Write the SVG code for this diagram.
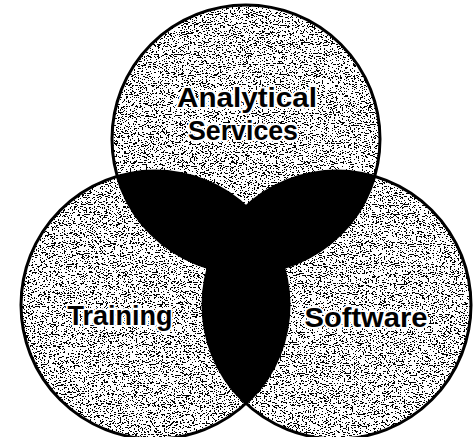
<svg xmlns="http://www.w3.org/2000/svg" width="473" height="437" viewBox="0 0 473 437">
  <defs>
    <filter id="stipple" filterUnits="userSpaceOnUse" x="0" y="0" width="473" height="437" color-interpolation-filters="sRGB">
      <feTurbulence type="fractalNoise" baseFrequency="0.5 1.1" numOctaves="2" seed="7" result="n"/>
      <feColorMatrix in="n" type="matrix" values="0.33 0.33 0.33 0 0  0.33 0.33 0.33 0 0  0.33 0.33 0.33 0 0  0 0 0 0 1" result="g"/>
      <feComponentTransfer in="g" result="t">
        <feFuncR type="discrete" tableValues="0 0 0 0 0 1 1 1 1 1 1"/>
        <feFuncG type="discrete" tableValues="0 0 0 0 0 1 1 1 1 1 1"/>
        <feFuncB type="discrete" tableValues="0 0 0 0 0 1 1 1 1 1 1"/>
      </feComponentTransfer>
      <feComposite in="t" in2="SourceGraphic" operator="in"/>
    </filter>
    <clipPath id="clipT"><circle cx="246" cy="139" r="134"/></clipPath>
    <clipPath id="clipL"><circle cx="155" cy="305" r="134"/></clipPath>
    <clipPath id="clipR"><circle cx="337" cy="305" r="134"/></clipPath>
  </defs>
  <style>
    .fill { fill: #000; filter: url(#stipple); }
    .rim { fill: none; stroke: #000; stroke-width: 3; }
    .dark { fill: #000; }
    .lbl { font-family: "Liberation Sans", Arial, sans-serif; font-weight: bold; font-size: 27px; fill: #000; stroke: #fff; stroke-width: 4; stroke-linejoin: round; paint-order: stroke; text-anchor: middle; }
  </style>
  <rect width="473" height="437" fill="#fff"/>

  <g id="node-analytical">
    <circle class="fill" cx="246" cy="139" r="134"/>
  </g>
  <g id="node-training">
    <circle class="fill" cx="155" cy="305" r="134"/>
  </g>
  <g id="node-software">
    <circle class="fill" cx="337" cy="305" r="134"/>
  </g>

  <g id="overlaps">
    <circle class="dark" cx="246" cy="139" r="134" clip-path="url(#clipL)"/>
    <circle class="dark" cx="246" cy="139" r="134" clip-path="url(#clipR)"/>
    <circle class="dark" cx="155" cy="305" r="134" clip-path="url(#clipR)"/>
  </g>

  <g id="outlines">
    <circle class="rim" cx="246" cy="139" r="134"/>
    <circle class="rim" cx="155" cy="305" r="134"/>
    <circle class="rim" cx="337" cy="305" r="134"/>
  </g>

  <g id="labels">
    <text class="lbl" x="247" y="107" textLength="140" lengthAdjust="spacingAndGlyphs">Analytical</text>
    <text class="lbl" x="243" y="140" textLength="110" lengthAdjust="spacingAndGlyphs">Services</text>
    <text class="lbl" x="120" y="325" textLength="105" lengthAdjust="spacingAndGlyphs">Training</text>
    <text class="lbl" x="366" y="327" textLength="123" lengthAdjust="spacingAndGlyphs">Software</text>
  </g>
</svg>
